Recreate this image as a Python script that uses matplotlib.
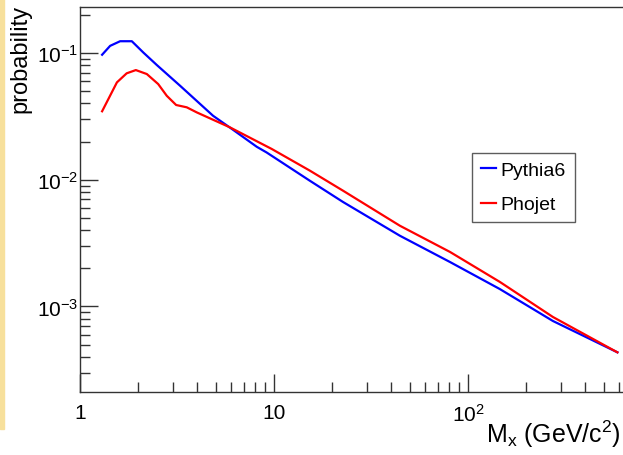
import numpy as np
import matplotlib
matplotlib.use("Agg")
import matplotlib.pyplot as plt
from matplotlib.ticker import FuncFormatter, NullFormatter, LogLocator
from matplotlib.patches import Rectangle

plt.rcParams['font.family'] = ['Liberation Sans', 'DejaVu Sans']
plt.rcParams['mathtext.fontset'] = 'custom'
plt.rcParams['mathtext.rm'] = 'Liberation Sans'
plt.rcParams['mathtext.it'] = 'Liberation Sans:italic'
plt.rcParams['mathtext.bf'] = 'Liberation Sans:bold'

# Mx values (GeV/c^2) and probabilities
pythia_mx = [1.30, 1.43, 1.61, 1.85, 2.12, 2.49, 3.28, 4.85, 6.08, 8.15,
             9.17, 15.3, 22.7, 44.6, 80.8, 146, 274, 589]
pythia_p = [0.0970, 0.114, 0.124, 0.124, 0.101, 0.0804, 0.0552, 0.0320,
            0.0251, 0.0182, 0.0164, 0.00982, 0.00667, 0.00361, 0.00224,
            0.00137, 0.000767, 0.000434]

phojet_mx = [1.30, 1.55, 1.74, 1.94, 2.21, 2.53, 2.80, 3.13, 3.55, 4.00,
             5.93, 9.73, 15.3, 22.7, 44.6, 80.8, 146, 274, 589]
phojet_p = [0.0347, 0.0587, 0.0692, 0.0734, 0.0683, 0.0569, 0.0460, 0.0389,
            0.0373, 0.0340, 0.0259, 0.0175, 0.0118, 0.00819, 0.00433,
            0.00269, 0.00156, 0.000825, 0.000434]

xlim = (1, 684)
ylim = (2.11e-4, 0.231)

fig = plt.figure(figsize=(6.23, 4.56), dpi=100)
ax = fig.add_axes([80 / 623, 63 / 456, 550 / 623, 385 / 456])

ax.plot(pythia_mx, pythia_p, color='#0000ff', lw=1.6, label='Pythia6')
ax.plot(phojet_mx, phojet_p, color='#ff0000', lw=1.6, label='Phojet')

ax.set_xscale('log')
ax.set_yscale('log')
ax.set_xlim(*xlim)
ax.set_ylim(*ylim)

def xfmt(v, pos):
    if abs(v - 1) < 1e-9:
        return '1'
    if abs(v - 10) < 1e-9:
        return '10'
    return r'$10^{%d}$' % round(np.log10(v))

ax.xaxis.set_major_formatter(FuncFormatter(xfmt))
ax.xaxis.set_minor_formatter(NullFormatter())
ax.yaxis.set_minor_formatter(NullFormatter())
ax.yaxis.set_minor_locator(LogLocator(base=10, subs=np.arange(2, 10)))

ax.tick_params(which='both', direction='in', top=False, right=False,
               labelsize=15, color='#333333', width=1)
ax.tick_params(which='major', length=13)
ax.tick_params(which='minor', length=7)
ax.tick_params(axis='x', which='major', pad=8)
ax.tick_params(axis='y', which='major', pad=1)
for s in ax.spines.values():
    s.set_color('#333333')
    s.set_linewidth(1)

ax.set_ylabel('probability', fontsize=17, loc='top')
ax.yaxis.set_label_coords(-0.089, 1.008)
ax.set_xlabel(r'M$_{\rm x}$ (GeV/c$^{2}$)', fontsize=18, loc='right')
ax.xaxis.set_label_coords(0.984, -0.066)

leg = ax.legend(loc='upper left', bbox_to_anchor=(0.713, 0.621), fontsize=14,
                frameon=True, fancybox=False, handlelength=0.77,
                handletextpad=0.25, borderpad=0.45, labelspacing=0.85,
                borderaxespad=0)
leg.get_frame().set_edgecolor('#333333')
leg.get_frame().set_linewidth(1)

# beige strip on the left edge
fig.patches.append(Rectangle((0, 26 / 456), 4 / 623, 1, color='#f7e09c',
                             transform=fig.transFigure, zorder=0))

fig.savefig('out.png', dpi=100)
